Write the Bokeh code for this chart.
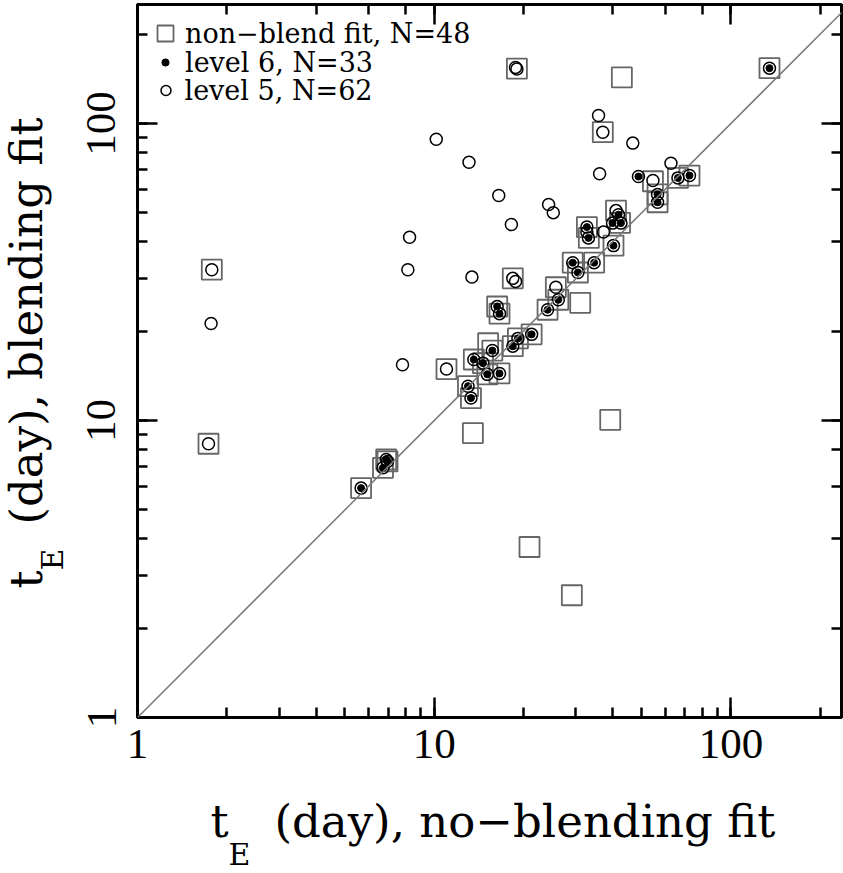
from bokeh.plotting import figure
from bokeh.layouts import row, column
from bokeh.models import (LogAxis, Range1d, Slope, Label, Legend, LegendItem,
                          NumeralTickFormatter)
from bokeh.embed import file_html
from bokeh.resources import INLINE

# ---- data (t_E no-blending fit, t_E blending fit), days ----
nonblend_x = [19.0, 42.9, 37.0, 54.6, 66.3, 72.5, 56.6, 56.6, 41.0, 42.3, 32.7, 33.2,
              40.2, 29.3, 30.5, 34.6, 25.7, 26.2, 24.1, 31.05, 16.3, 16.6, 21.3, 19.15,
              18.4, 15.2, 15.7, 13.6, 14.6, 15.1, 16.6, 11.0, 13.0, 13.3, 13.5, 39.2,
              6.89, 6.96, 6.72, 5.67, 20.95, 29.1, 1.78, 1.735, 18.4, 134.9]
nonblend_y = [153.0, 143.0, 93.5, 63.9, 65.6, 66.8, 57.7, 54.3, 50.9, 46.3, 44.8, 41.2,
              38.8, 34.0, 31.5, 34.0, 28.1, 25.5, 23.6, 24.9, 24.2, 22.9, 19.5, 18.9,
              17.8, 18.2, 17.2, 16.05, 15.6, 14.3, 14.4, 14.9, 13.05, 11.9, 9.07, 10.05,
              7.39, 7.28, 6.93, 5.92, 3.75, 2.58, 32.2, 8.35, 30.1, 153.6]

level6_x = [134.9, 48.8, 66.3, 72.5, 56.6, 56.6, 41.8, 39.9, 42.6, 32.7, 33.1, 40.2,
            29.3, 30.5, 34.6, 26.2, 24.1, 16.3, 16.6, 21.3, 19.15, 18.4, 15.7, 13.6,
            14.6, 15.1, 16.6, 13.0, 13.3, 6.89, 6.96, 6.72, 5.67]
level6_y = [153.6, 66.3, 65.6, 66.8, 57.7, 54.3, 49.3, 46.2, 46.2, 44.8, 41.2, 38.8,
            34.0, 31.5, 34.0, 25.5, 23.6, 24.2, 22.9, 19.5, 18.9, 17.8, 17.2, 16.05,
            15.6, 14.3, 14.4, 13.05, 11.9, 7.39, 7.28, 6.93, 5.92]

level5_only_x = [18.8, 19.0, 35.8, 37.0, 46.7, 10.16, 13.1, 62.8, 36.1, 54.6, 16.5, 24.3,
                 25.2, 18.2, 8.26, 41.0, 37.2, 32.7, 8.15, 13.4, 18.4, 18.8, 25.7, 11.0,
                 7.82, 1.78, 1.77, 1.735]
level5_only_y = [154.5, 152.5, 106.4, 93.5, 85.9, 88.5, 74.1, 73.5, 67.7, 64.3, 57.2, 53.4,
                 50.1, 45.7, 41.4, 50.9, 43.1, 43.1, 32.2, 30.4, 30.1, 29.4, 28.1, 14.9,
                 15.4, 32.2, 21.2, 8.35]
level5_x = level5_only_x + level6_x
level5_y = level5_only_y + level6_y

legend_labels = ["non\u2212blend fit, N=48", "level 6, N=33", "level 5, N=62"]
xtitle_rest = "(day), no\u2212blending fit"
ytitle_rest = "(day), blending fit"

SERIF = "DejaVu Serif"
TICKFONT = "Liberation Serif"
TS = "45px"   # title size
ES = "30px"   # subscript size

LW = 74       # width of the left title strip
BH = 83       # height of the bottom title strip

p = figure(width=843 - LW, height=873 - BH, x_axis_type="log", y_axis_type="log",
           x_range=Range1d(1, 235.9), y_range=Range1d(1, 251.6),
           output_backend="svg", toolbar_location=None, title=None,
           min_border_left=137 - LW, min_border_right=2, min_border_top=4,
           min_border_bottom=873 - BH - 717)
p.frame_align = False
p.grid.visible = False
p.background_fill_color = "white"
p.border_fill_color = "white"
p.outline_line_color = "black"
p.outline_line_width = 3

p.add_layout(LogAxis(), "above")
p.add_layout(LogAxis(), "right")


def style_axis(ax, labels):
    ax.axis_line_color = "black"
    ax.axis_line_width = 3
    ax.major_tick_in = 20
    ax.major_tick_out = 0
    ax.minor_tick_in = 10
    ax.minor_tick_out = 0
    ax.major_tick_line_width = 2.5
    ax.minor_tick_line_width = 2.5
    ax.major_tick_line_color = "black"
    ax.minor_tick_line_color = "black"
    ax.axis_label = None
    if labels:
        ax.formatter = NumeralTickFormatter(format="0")
        ax.major_label_text_font = TICKFONT
        ax.major_label_text_font_size = "43px"
        ax.major_label_text_color = "black"
        ax.major_label_text_font_style = "normal"
    else:
        ax.major_label_text_color = None
        ax.major_label_text_font_size = "0px"
        ax.major_label_standoff = 0


for ax in p.below:
    style_axis(ax, True)
    ax.major_label_standoff = 12
for ax in p.left:
    style_axis(ax, True)
    ax.major_label_orientation = "vertical"
    ax.major_label_standoff = 22
for ax in p.above + p.right:
    style_axis(ax, False)

# 1:1 line
p.add_layout(Slope(gradient=1, y_intercept=0, line_color="#777777", line_width=1.5))

sq = p.scatter(nonblend_x, nonblend_y, marker="square", size=20, fill_color=None,
               line_color="#666666", line_width=1.8)
c5 = p.scatter(level5_x, level5_y, marker="circle", size=12, fill_color=None,
               line_color="black", line_width=1.5)
c6 = p.scatter(level6_x, level6_y, marker="circle", size=7, fill_color="black",
               line_color="black", line_width=1)

# legends (one per item, so that each symbol gets its own size)
leg_specs = [
    (sq, legend_labels[0], 40, 8, 664, 0),
    (c6, legend_labels[1], 18, 19, 635, 11),
    (c5, legend_labels[2], 25, 15.5, 607, 7),
]
for rend, lab_text, gw, lx, ly, so in leg_specs:
    lg = Legend(items=[LegendItem(label=lab_text, renderers=[rend])],
                location=(lx, ly), glyph_width=gw, glyph_height=40,
                label_standoff=so, padding=0, margin=0, spacing=0,
                border_line_color=None, background_fill_alpha=0,
                label_text_font=SERIF, label_text_font_size="27px",
                label_text_color="black", label_height=20)
    p.add_layout(lg, "center")


def strip(w, h):
    f = figure(width=w, height=h, x_range=Range1d(0, 1), y_range=Range1d(0, 1),
               x_axis_location=None, y_axis_location=None, min_border=0,
               min_border_left=0, min_border_right=0, min_border_top=0,
               min_border_bottom=0,
               output_backend="svg", toolbar_location=None, title=None)
    f.frame_align = False
    f.outline_line_color = None
    f.grid.visible = False
    f.background_fill_color = "white"
    f.border_fill_color = "white"
    return f


def lab(fig, x, y, text, size, angle=0.0):
    fig.add_layout(Label(x=x, y=y, x_units="screen", y_units="screen", text=text,
                         angle=angle, text_font=SERIF, text_font_size=size,
                         text_align="left", text_baseline="middle",
                         text_color="black"))


# bottom title strip: t_E (day), no-blending fit  (anchors at text middle)
pb = strip(843 - LW, BH)
bx = 210 - LW
lab(pb, bx, 52, "t", TS)
lab(pb, bx + 18, 19, "E", ES)
lab(pb, bx + 64, 52, xtitle_rest, TS)

# left title strip: t_E (day), blending fit (rotated)
pl = strip(LW, 873)
ly0 = 873 - 588
lab(pl, 26, ly0, "t", TS, 1.5708)
lab(pl, 52, ly0 + 18, "E", ES, 1.5708)
lab(pl, 26, ly0 + 64, ytitle_rest, TS, 1.5708)

layout = row(pl, column(p, pb, spacing=0), spacing=0)

open("out.html", "w").write(file_html(layout, INLINE))
